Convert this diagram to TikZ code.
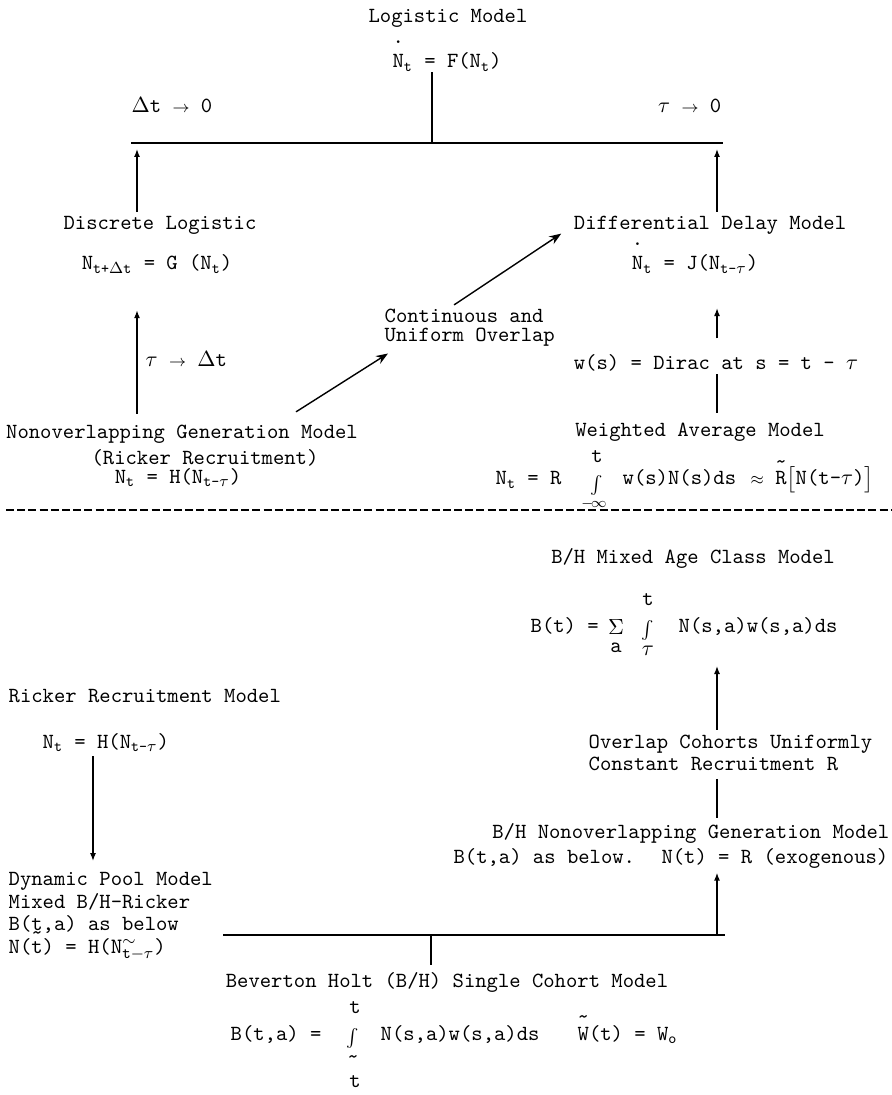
\documentclass[tikz,border=0pt]{standalone}
\usepackage{amsmath}
\usetikzlibrary{arrows.meta}

\newcommand{\tw}{\fontsize{10.8}{13}\selectfont\ttfamily}
\newcommand{\topmk}[3]{\makebox[0pt][l]{\smash{\raisebox{#2}{#1}}}#3}
\newcommand{\Ndot}{\topmk{.}{1.15em}{N}}
\newcommand{\Rtil}{\topmk{\textasciitilde}{0.75em}{R}}
\newcommand{\Wtil}{\topmk{\textasciitilde}{0.75em}{W}}
\newcommand{\tund}{\topmk{\textasciitilde}{-0.42em}{t}}
\newcommand{\ar}{$\scriptstyle\rightarrow$}

\tikzset{
	lbl/.style = {inner sep = 0pt, font = \tw},
	intg/.style = {inner sep = 0pt, font = \fontsize{9}{9}\selectfont},
	uparr/.style = {-{Latex[length = 4pt, width = 3pt]}},
	diag/.style = {-{Stealth[length = 6pt, width = 4.5pt]}},
}

\begin{document}
\begin{tikzpicture}[x = 0.5pt, y = -0.5pt, line width = 0.7pt]
		\useasboundingbox (0, 0) rectangle (891, 1095);
		
		\coordinate (colL) at (137, 0);
		\coordinate (colM) at (432, 0);
		\coordinate (colR) at (717, 0);
		\coordinate (colK) at (93, 0);
		\coordinate (colB) at (431, 0);
		\coordinate (barAw) at (131, 143);
		\coordinate (barAe) at (723, 143);
		\coordinate (barBw) at (223, 935);
		\coordinate (barBe) at (725, 935);
		\coordinate (mixin) at (717, 666);
		
		% upper half
		\node [lbl, anchor = base] (logmod) at (448, 23) {Logistic Model};
		\node [lbl, anchor = base] (logeq) at (447, 68) {\Ndot\textsubscript{t} = F(N\textsubscript{t})};
		\node [lbl, anchor = base west] (dt0) at (131, 113) {$\Delta$t \ar{} 0};
		\node [lbl, anchor = base east] (tau0) at (722, 113) {$\tau$ \ar{} 0};
		
		\node [lbl, anchor = base] (disc) at (160, 230) {Discrete Logistic};
		\node [lbl, anchor = base] (diffdel) at (710, 230) {Differential Delay Model};
		\node [lbl, anchor = base] (disceq) at (157, 270) {N\textsubscript{t+$\Delta$t} = G (N\textsubscript{t})};
		\node [lbl, anchor = base] (diffeq) at (695, 270) {\Ndot\textsubscript{t} = J(N\textsubscript{t-$\tau$})};
		
		\node [lbl, anchor = base west] (taudt) at (145, 367) {$\tau$ \ar{} $\Delta$t};
		\node [lbl, anchor = base west] (cont1) at (384, 323) {Continuous and};
		\node [lbl, anchor = base west] (cont2) at (384, 342) {Uniform Overlap};
		\node [lbl, anchor = base] (dirac) at (716, 370) {w(s) = Dirac at s = t - $\tau$};
		
		\node [lbl, anchor = base] (nonov1) at (182, 438) {Nonoverlapping Generation Model};
		\node [lbl, anchor = base] (nonov2) at (205, 465) {(Ricker Recruitment)};
		\node [lbl, anchor = base] (nonov3) at (178, 483) {N\textsubscript{t} = H(N\textsubscript{t-$\tau$})};
		\node [lbl, anchor = base] (wavg) at (700, 437) {Weighted Average Model};
		
		\node [lbl, anchor = base west] (waL) at (495, 485) {N\textsubscript{t} = R};
		\node [intg] (waint) at (597, 485) {$\int$};
		\node [lbl] (waup) at (597, 457) {t};
		\node [lbl, font = \fontsize{7}{7}\selectfont] (walo) at (594, 504) {$-\!\infty$};
		\node [lbl, anchor = base west] (wamid) at (622, 485) {w(s)N(s)ds};
		\node [lbl, anchor = base west] (waR) at (750, 485) {$\scriptstyle\approx$ \Rtil$\bigl[$N(t-$\tau$)$\bigr]$};
		
		\draw (logeq.south -| colM) -- (barAe -| colM);
		\draw (barAw) -- (barAe);
		\draw [uparr, shorten <= 2pt, shorten > = 3pt] (disc.north -| colL) -- (barAw -| colL);
		\draw [uparr, shorten <= 2pt, shorten > = 3pt] (diffdel.north -| colR) -- (barAe -| colR);
		\draw [uparr, shorten <= 5pt, shorten > = 18pt] (nonov1.north -| colL) -- (disceq.south -| colL);
		\draw [diag] ([xshift = 57pt, yshift = 6pt] nonov1.north) -- ([xshift = 2pt, yshift = -3pt] cont2.south west);
		\draw [diag] ([xshift = -5pt, yshift = 2pt] cont1.north) -- ([xshift = -6pt, yshift = 1pt] diffdel.south west);
		\draw [shorten <= 5pt, shorten > = 1pt] (wavg.north -| colR) -- (dirac.south -| colR);
		\draw [uparr, shorten <= 8pt, shorten > = 17pt] (dirac.north -| colR) -- (diffeq.south -| colR);
		
		\draw [dashed, dash pattern = on 4pt off 1.6pt] (6, 510) -- (891, 510);
		
		% lower half
		\node [lbl, anchor = base] (mixmod) at (693, 563) {B/H Mixed Age Class Model};
		\node [lbl, anchor = base west] (mixL) at (530, 632) {B(t) =};
		\node [lbl] (mixsum) at (616, 627) {$\Sigma$};
		\node [lbl] (mixa) at (616, 648) {a};
		\node [intg] (mixint) at (648, 630) {$\int$};
		\node [lbl] (mixup) at (648, 600) {t};
		\node [lbl] (mixlo) at (648, 651) {$\tau$};
		\node [lbl, anchor = base west] (mixR) at (678, 632) {N(s,a)w(s,a)ds};
		
		\node [lbl, anchor = base west] (ovl1) at (588, 748) {Overlap Cohorts Uniformly};
		\node [lbl, anchor = base west] (ovl2) at (588, 770) {Constant Recruitment R};
		\node [lbl, anchor = base east] (bhn1) at (890, 838) {B/H Nonoverlapping Generation Model};
		\node [lbl, anchor = base east] (bhn2) at (889, 863) {B(t,a) as below.~ N(t) = R (exogenous)};
		
		\node [lbl, anchor = base west] (rick1) at (8, 702) {Ricker Recruitment Model};
		\node [lbl, anchor = base west] (rick2) at (42, 748) {N\textsubscript{t} = H(N\textsubscript{t-$\tau$})};
		\node [lbl, anchor = base west] (dyn1) at (8, 885) {Dynamic Pool Model};
		\node [lbl, anchor = base west] (dyn2) at (8, 908) {Mixed B/H-Ricker};
		\node [lbl, anchor = base west] (dyn3) at (8, 930) {B(\tund,a) as below};
		\node [lbl, anchor = base west] (dyn4) at (8, 953) {N(t) = H($\mathtt{N}^{\sim}_{\mathtt{t-}\tau}$)};
		
		\node [lbl, anchor = base] (bev) at (447, 987) {Beverton Holt (B/H) Single Cohort Model};
		\node [lbl, anchor = base west] (bevL) at (230, 1040) {B(t,a) =};
		\node [intg] (bevint) at (353, 1038) {$\int$};
		\node [lbl] (bevup) at (355, 1008) {t};
		\node [lbl] (bevtil) at (353, 1060) {\textasciitilde};
		\node [lbl] (bevlo) at (355, 1082) {t};
		\node [lbl, anchor = base west] (bevR) at (380, 1040) {N(s,a)w(s,a)ds};
		\node [lbl, anchor = base west] (bevW) at (577, 1040) {\Wtil(t) = W\textsubscript{o}};
		
		\draw [uparr, shorten <= 2pt] (ovl1.north -| mixin) -- (mixin);
		\draw [shorten <= 4pt, shorten > = 2pt] (ovl2.south -| colR) -- (bhn1.north -| colR);
		\draw [uparr, shorten > = 2pt] (barBe -| colR) -- (bhn2.south -| colR);
		\draw (barBw) -- (barBe);
		\draw [shorten > = 3pt] (barBw -| colB) -- (bev.north -| colB);
		\draw [uparr, shorten <= 2pt, shorten > = 5pt] (rick2.south -| colK) -- (dyn1.north -| colK);
	\end{tikzpicture}
\end{document}
